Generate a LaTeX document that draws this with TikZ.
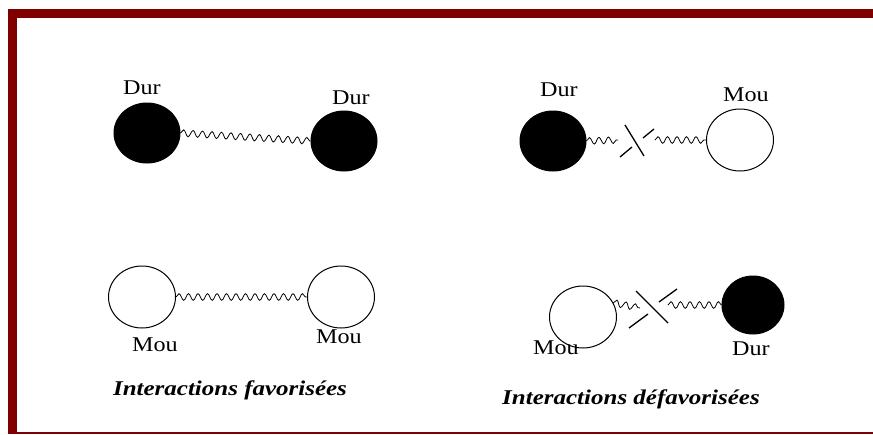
\documentclass[tikz,border=0pt]{standalone}
\usepackage{fontspec}
\usepackage{graphicx}
\setmainfont{Liberation Serif}
\usetikzlibrary{shapes.geometric,decorations.pathmorphing}
\definecolor{framered}{RGB}{128,0,0}
\newcommand{\wideL}[1]{\scalebox{1.15}[1]{#1}}
\newcommand{\wideC}[1]{\scalebox{1.19}[1]{#1}}
\begin{document}
\begin{tikzpicture}[x=1pt,y=-1pt,
 hard/.style={ellipse,draw=black,fill=black,line width=1pt,minimum width=66pt,minimum height=60pt,inner sep=0pt},
 soft/.style={ellipse,draw=black,fill=white,line width=1pt,minimum width=67pt,minimum height=62pt,inner sep=0pt},
 lbl/.style={font=\fontsize{21}{21}\selectfont,inner sep=0pt},
 capt/.style={font=\fontsize{21}{21}\selectfont\bfseries\itshape,inner sep=0pt},
 bond/.style={decorate,decoration={snake,amplitude=3.3pt,segment length=9.5pt},line width=0.8pt},
 cut/.style={line width=1.3pt}]
\useasboundingbox (0,0) rectangle (873,434);
% frame
\fill[framered] (8,9) rectangle (873,18);
\fill[framered] (8,9) rectangle (17,434);
\fill[framered] (8,432) rectangle (873,434);
% top left
\node[hard] (d1) at (147,133) {};
\node[hard] (d2) at (344,141) {};
\node[lbl] (ld1) at (142,88) {\wideL{Dur}};
\node[lbl] (ld2) at (351,98) {\wideL{Dur}};
\draw[bond] (d1.east) -- (d2.west);
% bottom left
\node[soft] (m1) at (142,297) {};
\node[soft] (m2) at (341,297) {};
\node[lbl] (lm1) at (155,345) {\wideL{Mou}};
\node[lbl] (lm2) at (339,337) {\wideL{Mou}};
\draw[bond] (m1.east) -- (m2.west);
\node[capt] (cap1) at (230,390) {\wideC{Interactions favorisées}};
% top right
\node[hard] (d3) at (553,141) {};
\node[soft] (m3) at (740,140) {};
\node[lbl] (ld3) at (559,90) {\wideL{Dur}};
\node[lbl] (lm3) at (746,95) {\wideL{Mou}};
\coordinate (c1) at (618,140);
\coordinate (c2) at (655,140);
\draw[bond] (d3.east) -- (c1);
\draw[bond] (c2) -- (m3.west);
\draw[cut] (625,125) -- (644,156);
\draw[cut] (620,157) -- (632,147);
\draw[cut] (643,138) -- (654,129);
% bottom right
\node[soft] (m4) at (583,317) {};
\node[hard,minimum width=62pt,minimum height=58pt] (d4) at (753,305) {};
\node[lbl] (lm4) at (556,348) {\wideL{Mou}};
\node[lbl] (ld4) at (751,349) {\wideL{Dur}};
\coordinate (c3) at (640,308);
\coordinate (c4) at (668,305);
\draw[bond] (m4.25) -- (c3);
\draw[bond] (c4) -- (d4.west);
\draw[cut] (636,291) -- (668,323);
\draw[cut] (629,328) -- (648,314);
\draw[cut] (659,302) -- (677,289);
\node[capt] (cap2) at (631,399) {\wideC{Interactions défavorisées}};
\end{tikzpicture}
\end{document}
